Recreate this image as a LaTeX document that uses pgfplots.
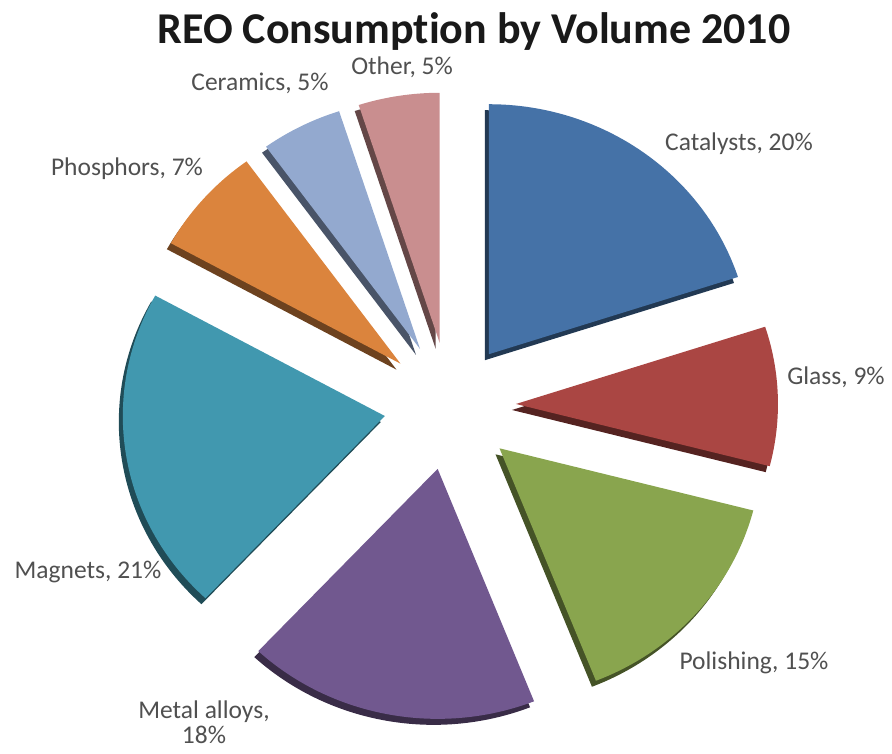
\documentclass[border=0pt]{standalone}
\usepackage{fontspec}
\setmainfont[Ligatures=NoCommon]{Carlito}
\usepackage{pgfplots}
\usepackage{pgfplotstable}
\pgfplotsset{compat=1.18}
\definecolor{cCat}{HTML}{4572A7}
\definecolor{cGla}{HTML}{AA4643}
\definecolor{cPol}{HTML}{89A54E}
\definecolor{cMet}{HTML}{71588F}
\definecolor{cMag}{HTML}{4198AF}
\definecolor{cPho}{HTML}{DB843D}
\definecolor{cCer}{HTML}{93A9CF}
\definecolor{cOth}{HTML}{C98E8F}
\definecolor{lab}{HTML}{505050}
\pgfplotstableread[col sep=comma]{
name,value,color
Catalysts,20,cCat
Glass,9,cGla
Polishing,15,cPol
Metal alloys,18,cMet
Magnets,21,cMag
Phosphors,7,cPho
Ceramics,5,cCer
Other,5,cOth
}\piedata
\begin{document}
\begin{tikzpicture}
\begin{axis}[
  scale only axis, width=892pt, height=753pt,
  xmin=0, xmax=892, ymin=0, ymax=753,
  hide axis, clip=false,
]
\path (axis cs:0,0) (axis cs:892,753);
\def\cum{0}
\pgfplotsforeachungrouped \i in {0,...,7} {
  \pgfplotstablegetelem{\i}{value}\of\piedata \let\val\pgfplotsretval
  \pgfplotstablegetelem{\i}{color}\of\piedata \let\col\pgfplotsretval
  \pgfmathsetmacro\sa{90-3.6*\cum}
  \pgfmathsetmacro\ea{90-3.6*(\cum+\val)}
  \pgfmathsetmacro\ma{(\sa+\ea)/2}
  \pgfmathsetmacro\tx{450+66*cos(\ma)}
  \pgfmathsetmacro\ty{347+64*sin(\ma)}
  \pgfmathsetmacro\px{262*cos(\sa)}
  \pgfmathsetmacro\py{250*sin(\sa)}
  \edef\cmd{%
    \noexpand\fill[\col!50!black, xshift=-4pt, yshift=-6pt] (axis cs:\tx,\ty) -- ++(\px pt,\py pt) arc[start angle=\sa, end angle=\ea, x radius=262pt, y radius=250pt] -- cycle;
    \noexpand\fill[\col] (axis cs:\tx,\ty) -- ++(\px pt,\py pt) arc[start angle=\sa, end angle=\ea, x radius=262pt, y radius=250pt] -- cycle;
  }
  \cmd
  \pgfmathsetmacro\cum{\cum+\val}
}
\node[font=\bfseries\fontsize{44}{50}\selectfont, text=black!90] at (axis cs:474,721) {REO Consumption by Volume 2010};
\begin{scope}[every node/.style={font=\fontsize{25.5}{25}\selectfont, text=lab}]
\node at (axis cs:739,609) {Catalysts, 20\%};
\node at (axis cs:836,376) {Glass, 9\%};
\node at (axis cs:754,90) {Polishing, 15\%};
\node[align=center, inner sep=0pt] at (axis cs:204,31) {Metal alloys,\\18\%};
\node at (axis cs:88,181) {Magnets, 21\%};
\node at (axis cs:127,584) {Phosphors, 7\%};
\node at (axis cs:260,670) {Ceramics, 5\%};
\node at (axis cs:402,686) {Other, 5\%};
\end{scope}
\end{axis}
\end{tikzpicture}
\end{document}
